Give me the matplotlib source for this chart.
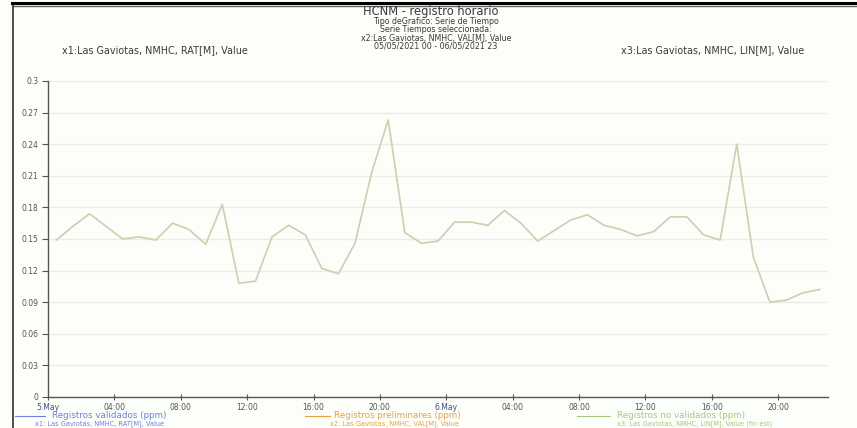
import numpy as np
import matplotlib
matplotlib.use("Agg")
import matplotlib.pyplot as plt
from matplotlib.lines import Line2D

# --- Data ---------------------------------------------------------------------
# hourly NMHC values (ppm), 05/05/2021 00 -> 06/05/2021 22
hours = np.arange(47) + 0.5
nmhc = [0.149, 0.162, 0.174, 0.162, 0.150, 0.152, 0.149, 0.165, 0.159, 0.145,
        0.183, 0.108, 0.110, 0.152, 0.163, 0.154, 0.122, 0.117, 0.146, 0.213,
        0.263, 0.156, 0.146, 0.148, 0.166, 0.166, 0.163, 0.177, 0.165, 0.148,
        0.158, 0.168, 0.173, 0.163, 0.159, 0.153, 0.157, 0.171, 0.171, 0.154,
        0.149, 0.240, 0.133, 0.090, 0.092, 0.099, 0.102]

x_ticks = list(range(0, 48, 4))
x_labels = ["5.May", "04:00", "08:00", "12:00", "16:00", "20:00",
            "6.May", "04:00", "08:00", "12:00", "16:00", "20:00"]
y_ticks = [0, 0.03, 0.06, 0.09, 0.12, 0.15, 0.18, 0.21, 0.24, 0.27, 0.3]
y_labels = ["0", "0.03", "0.06", "0.09", "0.12", "0.15", "0.18", "0.21",
            "0.24", "0.27", "0.3"]

legend_names = ["Registros validados (ppm)", "Registros preliminares (ppm)",
                "Registros no validados (ppm)"]
legend_sub = ["x1: Las Gaviotas, NMHC, RAT[M], Value",
              "x2: Las Gaviotas, NMHC, VAL[M], Value",
              "x3: Las Gaviotas, NMHC, LIN[M], Value (fin est)"]
legend_colors = ["#7080e0", "#f0a040", "#a8c880"]

W, H = 857, 428
BG = "#fbfef9"
TXT = "#3a3a3a"

fig = plt.figure(figsize=(W / 100, H / 100), dpi=100, facecolor=BG)
ax = fig.add_axes([48 / W, (H - 397) / H, 780 / W, 316 / H], facecolor=BG)

# --- Grid & line --------------------------------------------------------------
for yv in y_ticks[1:]:
    ax.axhline(yv, color="#ebece8", lw=1.0, zorder=0)
ax.plot(hours, nmhc, color="#cdcfb0", lw=1.2, zorder=3)

ax.set_xlim(0, 47)
ax.set_ylim(0, 0.3)
ax.set_xticks(x_ticks)
ax.set_xticklabels(x_labels, fontsize=5.5, color="#555555")
for i, lbl in enumerate(ax.get_xticklabels()):
    if "May" in x_labels[i]:
        lbl.set_color("#405080")
ax.set_yticks(y_ticks)
ax.set_yticklabels(y_labels, fontsize=5.5, color="#555555")
ax.tick_params(axis="x", direction="inout", length=5, width=0.8,
               color="#555555", pad=1.5)
ax.tick_params(axis="y", direction="out", length=4, width=0.8,
               color="#555555", pad=3)
for s in ["top", "right"]:
    ax.spines[s].set_visible(False)
for s in ["left", "bottom"]:
    ax.spines[s].set_color("#555555")
    ax.spines[s].set_linewidth(1.0)

# --- Titles -------------------------------------------------------------------
def fx(px):
    return px / W


def fy(py):
    return 1 - py / H


fig.text(fx(431), fy(11), "HCNM - registro horario", fontsize=8.3,
         color=TXT, ha="center", va="center")
sub = ["Tipo deGrafico: Serie de Tiempo", "Serie Tiempos seleccionada:",
       "x2:Las Gaviotas, NMHC, VAL[M], Value", "05/05/2021 00 - 06/05/2021 23"]
for k, line in enumerate(sub):
    fig.text(fx(436), fy(22 + k * 8), line, fontsize=5.7, color=TXT,
             ha="center", va="center")
fig.text(fx(155), fy(50), "x1:Las Gaviotas, NMHC, RAT[M], Value", fontsize=6.9,
         color=TXT, ha="center", va="center")
fig.text(fx(713), fy(50), "x3:Las Gaviotas, NMHC, LIN[M], Value", fontsize=6.9,
         color=TXT, ha="center", va="center")

# --- Legend -------------------------------------------------------------------
leg_dash = [(15, 45), (305, 330), (577, 610)]
leg_text_x = [52, 334, 617]
leg_sub_x = [100, 395, 695]
for (x0, x1), tx, sx, name, subname, c in zip(leg_dash, leg_text_x, leg_sub_x,
                                              legend_names, legend_sub,
                                              legend_colors):
    fig.add_artist(Line2D([fx(x0), fx(x1)], [fy(416), fy(416)], color=c,
                          lw=0.8, transform=fig.transFigure))
    fig.text(fx(tx), fy(416), name, fontsize=6.3, color=c, ha="left",
             va="center")
    fig.text(fx(sx), fy(423.8), subname, fontsize=4.8, color=c, ha="center",
             va="center")

# --- Frame --------------------------------------------------------------------
fig.add_artist(Line2D([fx(12), 1], [fy(2.5), fy(2.5)], color="black", lw=2.2,
                      transform=fig.transFigure))
fig.add_artist(Line2D([fx(12), 1], [fy(5.5), fy(5.5)], color="#606060",
                      lw=1.0, transform=fig.transFigure))
fig.add_artist(Line2D([fx(12.5), fx(12.5)], [fy(5.5), 0], color="#404040",
                      lw=1.3, transform=fig.transFigure))

plt.savefig("out.png", dpi=100, facecolor=BG)
